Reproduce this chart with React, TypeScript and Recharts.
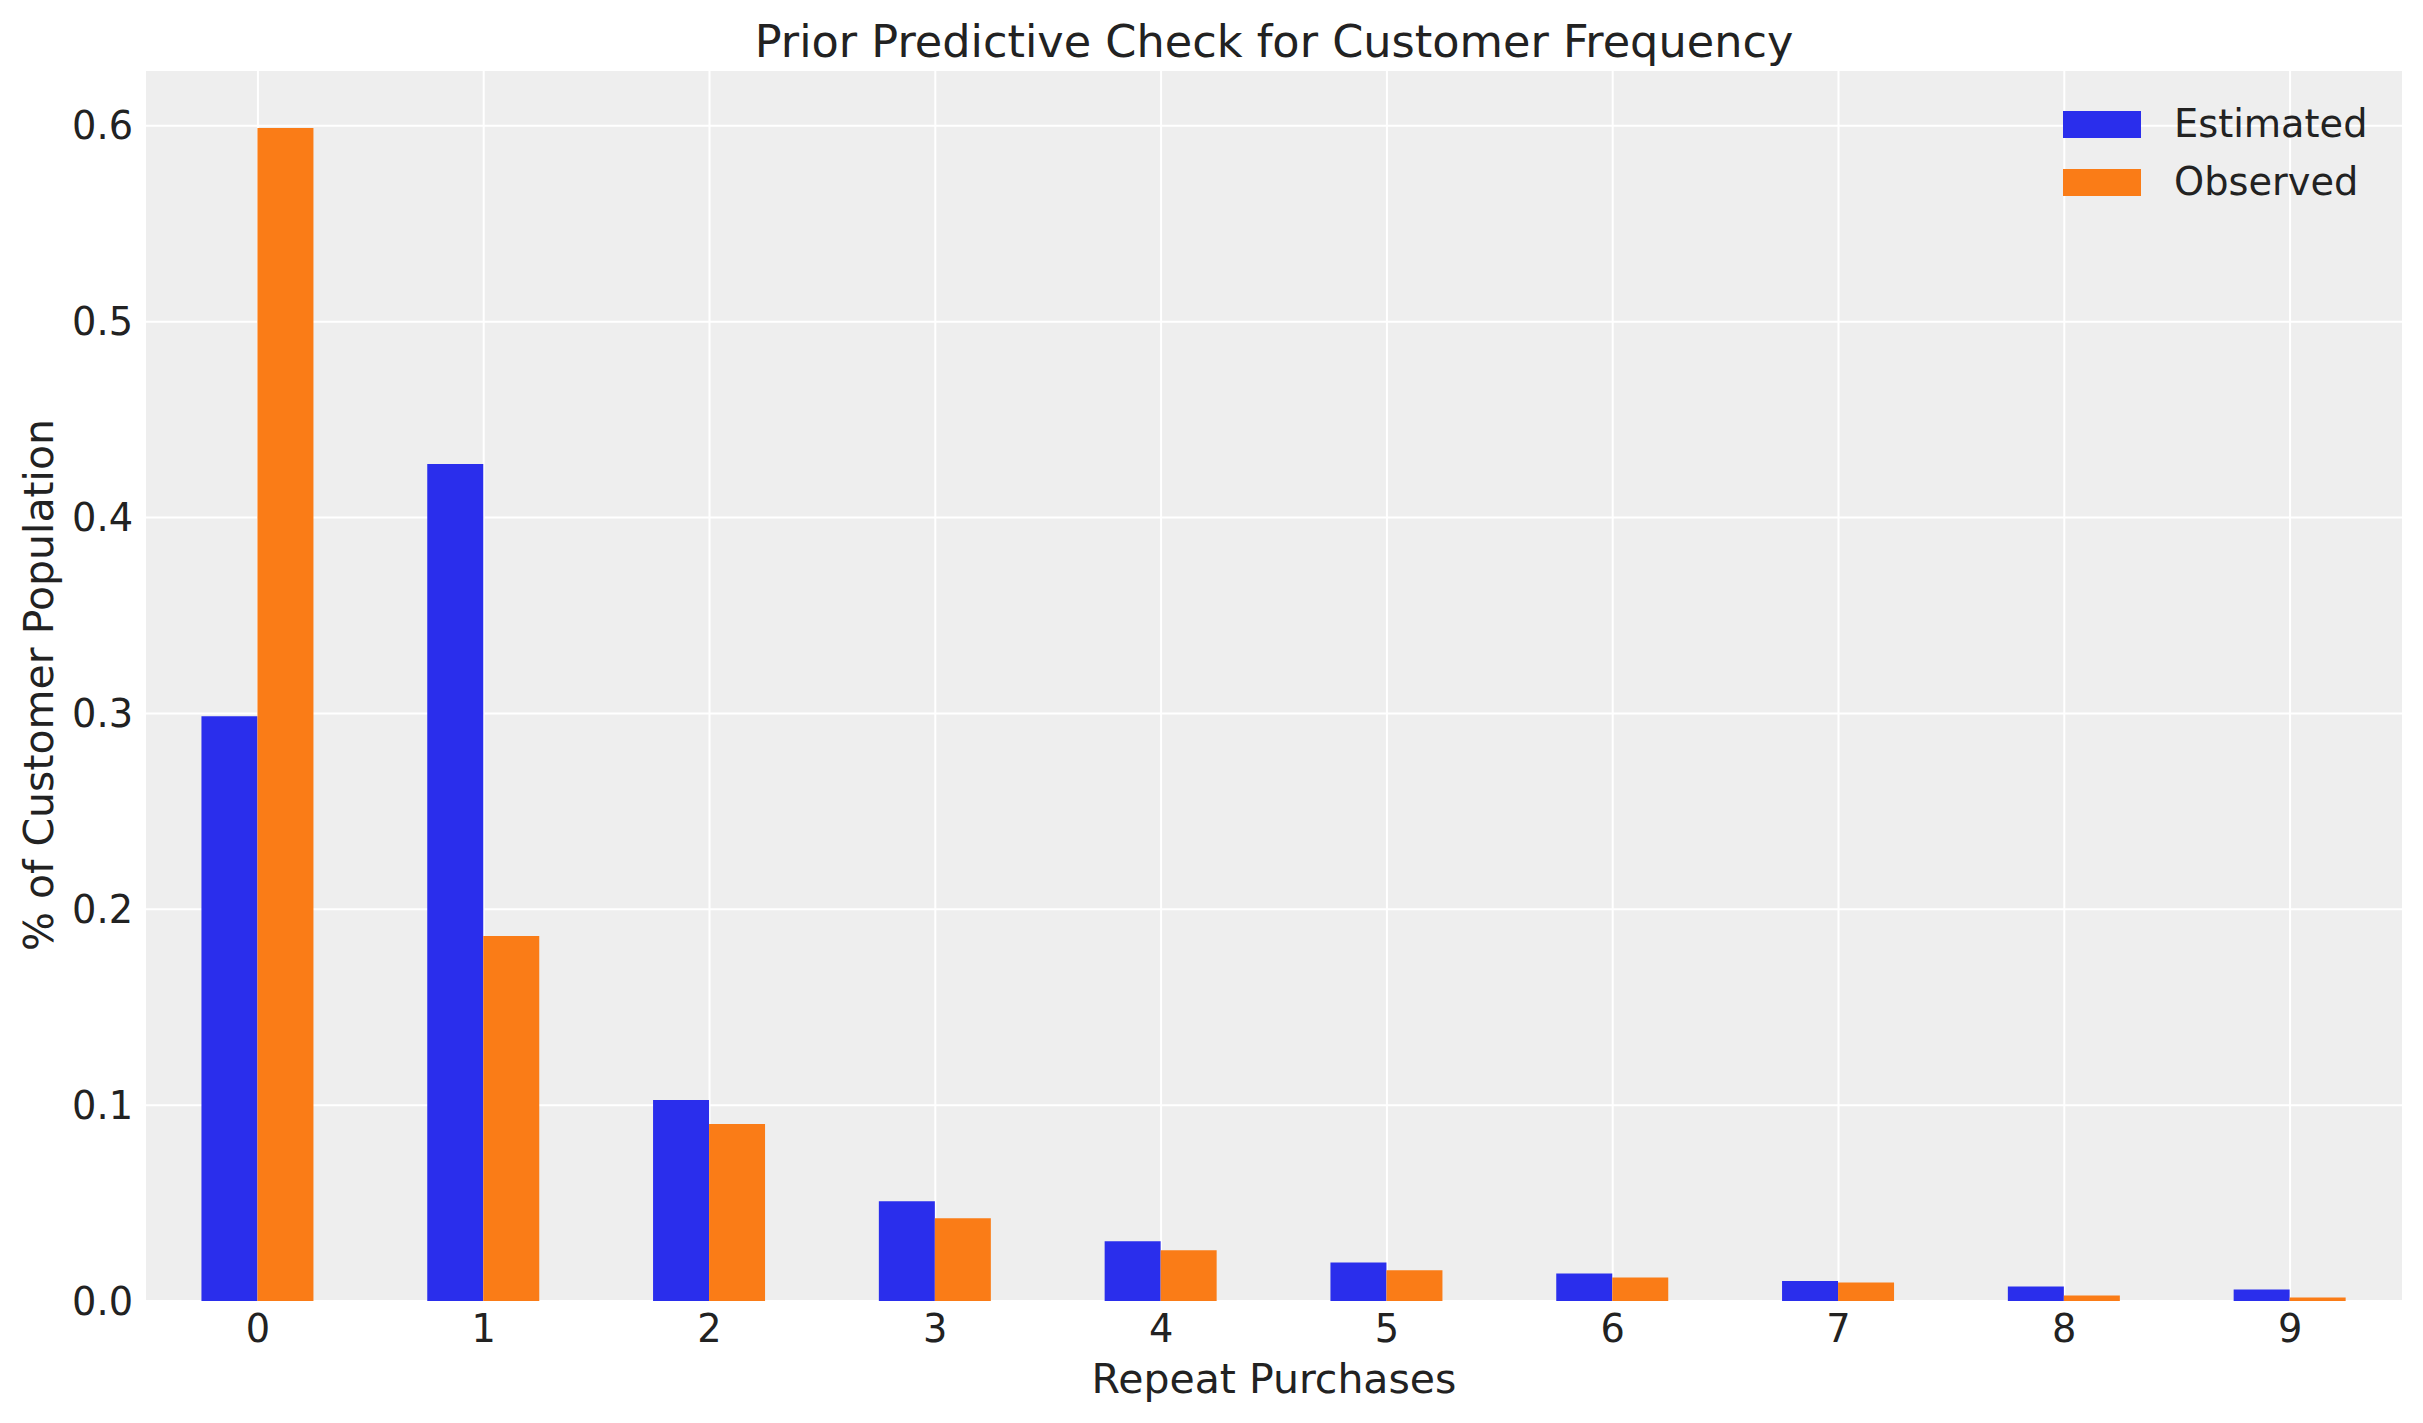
import { Bar, BarChart, CartesianGrid, Legend, XAxis, YAxis } from 'recharts';

// Repeat purchase counts on the x axis
const purchases = ['0', '1', '2', '3', '4', '5', '6', '7', '8', '9'];

// Share of customers
const estimated = [0.2986, 0.4273, 0.1026, 0.0509, 0.0305, 0.0197, 0.014, 0.0102, 0.0074, 0.0059];
const observed = [0.5989, 0.1863, 0.0904, 0.0422, 0.0259, 0.0157, 0.012, 0.0094, 0.0028, 0.0018];

const yTicks = [0, 0.1, 0.2, 0.3, 0.4, 0.5, 0.6];

const BLUE = '#2a2eec';
const ORANGE = '#fa7c17';
const TEXT = '#222222';
const FONT = '"DejaVu Sans", sans-serif';

const data = purchases.map((k, i) => ({
  k,
  Estimated: estimated[i],
  Observed: observed[i],
}));

const renderLegend = () => (
  <div style={{ fontFamily: FONT, fontSize: 38.3, color: TEXT }}>
    {[
      { name: 'Estimated', color: BLUE },
      { name: 'Observed', color: ORANGE },
    ].map((item) => (
      <div key={item.name} style={{ display: 'flex', alignItems: 'center', height: 58 }}>
        <span style={{ width: 78, height: 27, background: item.color, display: 'inline-block', marginRight: 33 }} />
        <span style={{ lineHeight: 1 }}>{item.name}</span>
      </div>
    ))}
  </div>
);

export default function App() {
  return (
    <div style={{ position: 'absolute', left: 0, top: 0, width: 2423, height: 1423, background: '#fff' }}>
      <div
        style={{
          position: 'absolute',
          top: 20,
          left: 0,
          width: 2548,
          textAlign: 'center',
          fontFamily: FONT,
          fontSize: 44.6,
          lineHeight: 1,
          color: TEXT,
        }}
      >
        Prior Predictive Check for Customer Frequency
      </div>
      <BarChart
        width={2423}
        height={1423}
        data={data}
        margin={{ top: 70, right: 20, bottom: 0, left: 0 }}
        barCategoryGap="25%"
        barGap={0}
      >
        <CartesianGrid fill="#eeeeee" stroke="#ffffff" strokeWidth={2} />
        <XAxis
          dataKey="k"
          height={122}
          axisLine={false}
          tickLine={false}
          tickSize={0}
          tickMargin={14}
          tick={{ fill: TEXT, fontSize: 38.3, fontFamily: FONT }}
          label={{
            content: () => (
              <text x={1274} y={1393} textAnchor="middle" fill={TEXT} fontSize={41} fontFamily={FONT}>
                Repeat Purchases
              </text>
            ),
          }}
        />
        <YAxis
          width={145}
          domain={[0, 0.6285]}
          ticks={yTicks}
          allowDataOverflow
          axisLine={false}
          tickLine={false}
          tickSize={0}
          tickMargin={12}
          tickFormatter={(v: number) => v.toFixed(1)}
          tick={{ fill: TEXT, fontSize: 38.3, fontFamily: FONT }}
          label={{
            content: () => (
              <text
                x={53}
                y={685}
                transform="rotate(-90 53 685)"
                textAnchor="middle"
                fill={TEXT}
                fontSize={41}
                fontFamily={FONT}
              >
                % of Customer Population
              </text>
            ),
          }}
        />
        <Legend
          layout="vertical"
          align="center"
          verticalAlign="middle"
          content={renderLegend}
          wrapperStyle={{ position: 'absolute', top: 95, left: 2063, width: 340, height: 'auto' }}
        />
        <Bar dataKey="Estimated" fill={BLUE} isAnimationActive={false} />
        <Bar dataKey="Observed" fill={ORANGE} isAnimationActive={false} />
      </BarChart>
    </div>
  );
}
